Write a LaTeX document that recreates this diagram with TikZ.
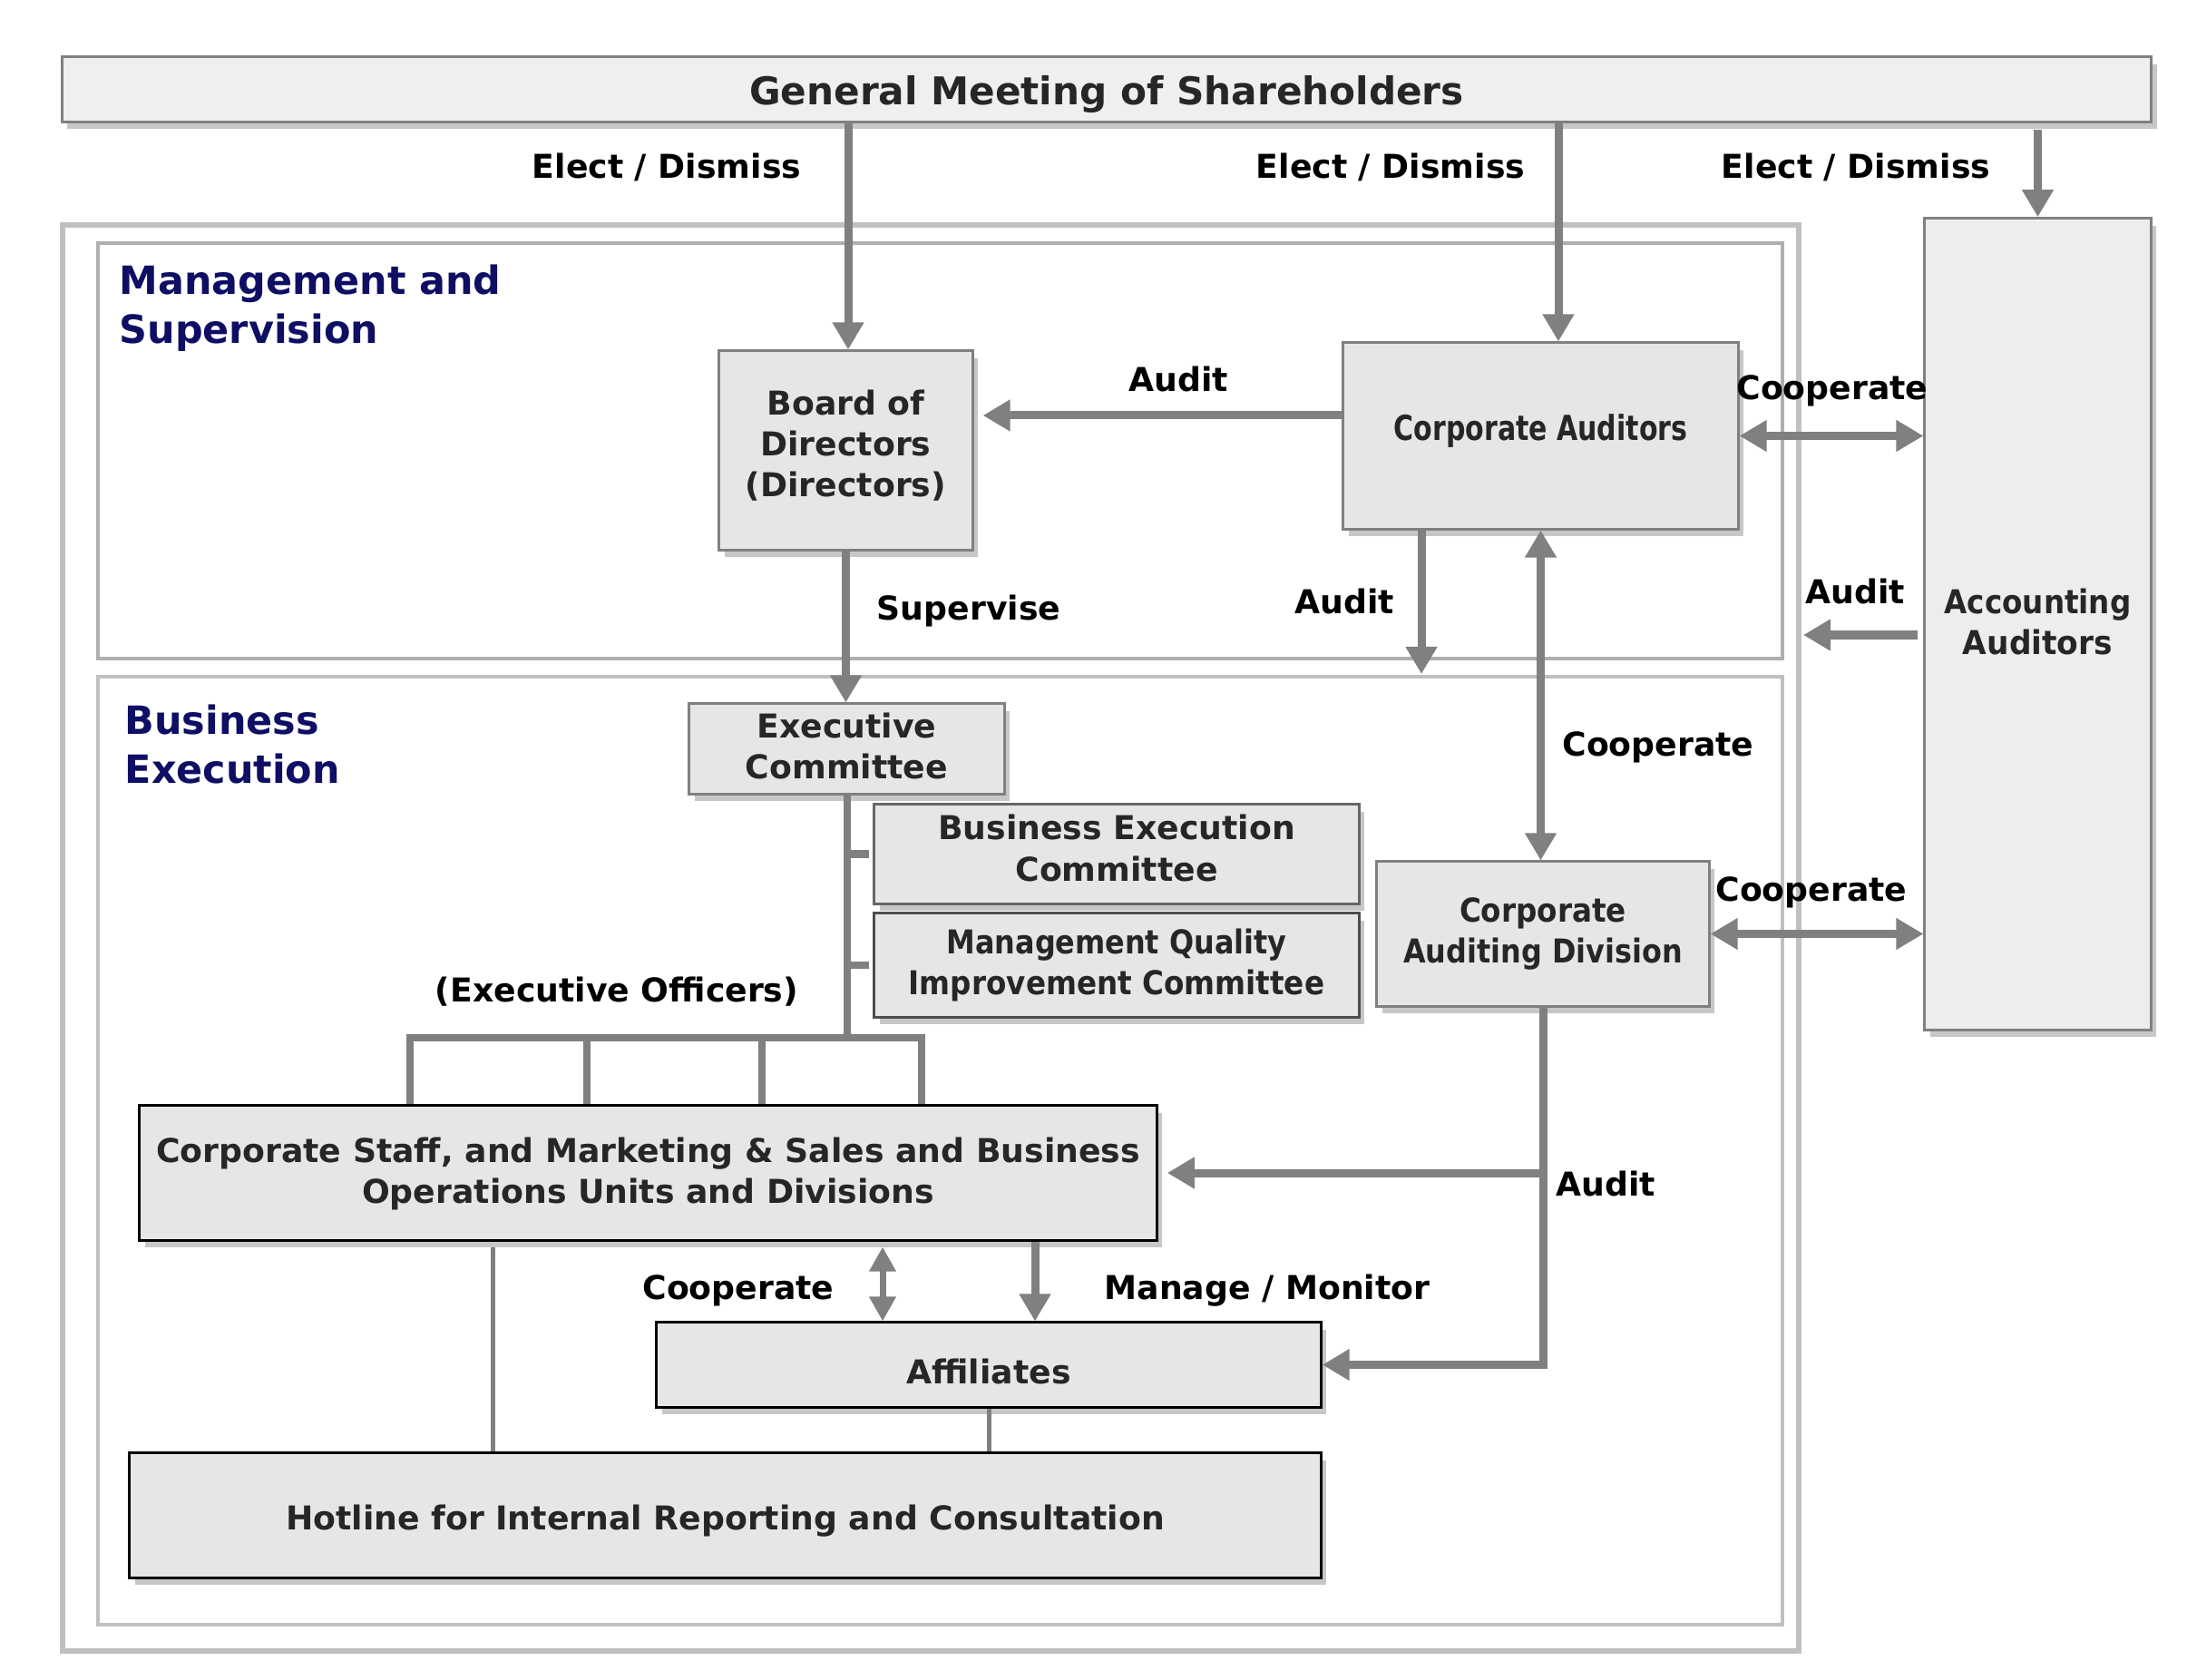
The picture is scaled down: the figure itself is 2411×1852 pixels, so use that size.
\documentclass[tikz,border=0pt]{standalone}
\usepackage{fontspec}
\setmainfont{DejaVu Sans}
\usetikzlibrary{arrows.meta,shadows,calc}
\definecolor{arrgray}{HTML}{808080}
\definecolor{boxborder}{HTML}{808080}
\definecolor{boxfill}{HTML}{E6E6E6}
\definecolor{gmfill}{HTML}{EFEFEF}
\definecolor{aafill}{HTML}{EDEDED}
\definecolor{boxtext}{HTML}{262626}
\definecolor{navy}{RGB}{14,14,100}
\definecolor{outerframe}{HTML}{C0C0C0}
\definecolor{innerframe}{HTML}{AFAFAF}
\newcommand{\sq}[2][0.85]{\scalebox{#1}[1]{#2}}
\newcommand{\mv}[2]{\raisebox{#1}[\height][\depth]{#2}}
\newcommand{\boxfont}{\bfseries\fontsize{10.3}{12.9}\selectfont}
\newcommand{\gmfont}{\bfseries\fontsize{12}{14}\selectfont}
\newcommand{\secfont}{\bfseries\fontsize{12.2}{15.4}\selectfont}
\begin{document}
\begin{tikzpicture}[x=0.01cm,y=-0.01cm,
  box/.style={draw=boxborder, line width=0.03cm, fill=boxfill, text=boxtext, font=\boxfont,
    align=center, inner sep=0pt,
    drop shadow={shadow xshift=0.06cm, shadow yshift=-0.08cm, opacity=0.22, fill=black}},
  blackbox/.style={box, draw=black},
  arr/.style={draw=arrgray, line width=0.09cm, line cap=butt,
    -{Triangle[length=0.3cm,width=0.33cm]}},
  darr/.style={draw=arrgray, line width=0.09cm, line cap=butt,
    {Triangle[length=0.3cm,width=0.33cm]}-{Triangle[length=0.3cm,width=0.33cm]}},
  sdarr/.style={draw=arrgray, line width=0.07cm, line cap=butt,
    {Triangle[length=0.27cm,width=0.28cm]}-{Triangle[length=0.27cm,width=0.28cm]}},
  tree/.style={draw=arrgray, line width=0.08cm, line cap=butt},
  thin/.style={draw=arrgray, line width=0.05cm},
  lab/.style={font=\boxfont, text=black, inner sep=0pt},
  sec/.style={font=\secfont, text=navy, inner sep=0pt, align=left, anchor=north west}
]
\useasboundingbox (0,0) rectangle (2411,1852);

% frames
\draw[draw=outerframe, line width=0.06cm] (69,248) rectangle (1983,1820);
\draw[draw=innerframe, line width=0.035cm] (108,268) rectangle (1965,726);
\draw[draw=outerframe, line width=0.035cm] (108,746) rectangle (1965,1791);

% section titles
\node[sec] (secms) at (131,291) {Management and\\Supervision};
\node[sec] (secbe) at (137,776) {Business\\Execution};

% nodes
\node[box, fill=gmfill, minimum width=23.02cm, minimum height=0.71cm, font=\gmfont, text=boxtext] (gm) at (1220,98.5) {\mv{-0.06cm}{General Meeting of Shareholders}};
\node[box, minimum width=2.79cm, minimum height=2.19cm] (bod) at (932.5,496.5) {\mv{0.03cm}{\begin{tabular}{@{}c@{}}Board of\\Directors\\(Directors)\end{tabular}}};
\node[box, minimum width=4.35cm, minimum height=2.05cm] (ca) at (1698.5,480.5) {\mv{0.05cm}{\fontsize{10.8}{13}\selectfont\sq[0.79]{Corporate Auditors}}};
\node[box, fill=aafill, minimum width=2.49cm, minimum height=8.94cm] (aa) at (2246.5,688) {\mv{-0.02cm}{\begin{tabular}{@{}c@{}}\sq[0.9]{Accounting}\\\sq[0.95]{Auditors}\end{tabular}}};
\node[box, minimum width=3.47cm, minimum height=0.99cm] (ec) at (933.5,825.5) {\mv{-0.015cm}{\begin{tabular}{@{}c@{}}Executive\\Committee\end{tabular}}};
\node[box, draw=boxborder!80!black, minimum width=5.34cm, minimum height=1.09cm] (bec) at (1231,941.5) {\mv{0.02cm}{\begin{tabular}{@{}c@{}}Business Execution\\Committee\end{tabular}}};
\node[box, draw=boxborder!60!black, minimum width=5.34cm, minimum height=1.14cm] (mqic) at (1231,1064) {\sq[0.88]{Management Quality}\\\sq[0.9]{Improvement Committee}};
\node[box, minimum width=3.66cm, minimum height=1.59cm] (cad) at (1701,1029.5) {\sq[0.9]{Corporate}\\\sq[0.88]{Auditing Division}};
\node[blackbox, minimum width=11.21cm, minimum height=1.48cm] (cs) at (714.5,1293) {\mv{-0.02cm}{\begin{tabular}{@{}c@{}}Corporate Staff, and Marketing \& Sales and Business\\Operations Units and Divisions\end{tabular}}};
\node[blackbox, minimum width=7.32cm, minimum height=0.93cm] (aff) at (1090,1504.5) {\mv{-0.07cm}{Affiliates}};
\node[blackbox, minimum width=13.13cm, minimum height=1.37cm] (hot) at (799.5,1670.5) {\mv{-0.06cm}{Hotline for Internal Reporting and Consultation}};

% connectors from general meeting
\draw[arr] (gm.south -| 935,0) -- (bod.north -| 935,0);
\draw[arr] (gm.south -| 1718,0) -- (ca.north -| 1718,0);
\draw[arr] ([yshift=-0.07cm]gm.south -| aa.north) -- (aa.north);

% audit etc.
\draw[arr, shorten >=0.1cm] ([yshift=0.225cm]ca.west) -- ([yshift=0.225cm]ca.west -| bod.east);
\draw[arr] (bod.south) -- (bod.south |- ec.north);
\coordinate (caaudit) at (1567,743);
\draw[arr] (ca.south -| caaudit) -- (caaudit);
\draw[darr] (ca.south) -- (ca.south |- cad.north);
\draw[darr] (ca.east) -- (ca.east -| aa.west);
\coordinate (aaaudit) at (1988,700);
\draw[arr] ([xshift=-0.06cm]aa.west |- aaaudit) -- (aaaudit);
\draw[darr] (cad.east) -- (cad.east -| aa.west);

% corporate auditing division audits
\draw[arr] (cad.south) -- (cad.south |- aff.east) -- (aff.east);
\draw[arr, shorten >=0.1cm] (cad.south |- cs.east) -- (cs.east);

% executive committee tree
\coordinate (bar) at (930,1144);
\draw[tree] (ec.south) -- (ec.south |- bar);
\draw[tree, shorten >=0.04cm] (ec.south |- bec.west) -- (bec.west);
\draw[tree, shorten >=0.04cm] (ec.south |- mqic.west) -- (mqic.west);
\draw[tree] (cs.north -| 452,0) -- (452,1144) -- (1016,1144) -- (cs.north -| 1016,0);
\draw[tree] (647,1144) -- (cs.north -| 647,0);
\draw[tree] (840,1144) -- (cs.north -| 840,0);

% corporate staff and affiliates
\draw[sdarr] ([yshift=-0.06cm]cs.south -| 973,0) -- (aff.north -| 973,0);
\draw[arr] (cs.south -| 1141,0) -- (aff.north -| 1141,0);
\draw[thin] ([yshift=-0.06cm]cs.south -| 543,0) -- (hot.north -| 543,0);
\draw[thin] (aff.south) -- (aff.south |- hot.north);

% labels
\node[lab] (l1) at (735,184) {Elect / Dismiss};
\node[lab] (l2) at (1533,184) {Elect / Dismiss};
\node[lab] (l3) at (2046,184) {Elect / Dismiss};
\node[lab] (l4) at (1299,418) {Audit};
\node[lab] (l5) at (1068,674) {Supervise};
\node[lab] (l6) at (1482,663) {Audit};
\node[lab] (l7) at (2020,431) {Cooperate};
\node[lab] (l8) at (2045,652) {Audit};
\node[lab] (l9) at (1828,824) {Cooperate};
\node[lab] (l10) at (1997,984) {Cooperate};
\node[lab] (l11) at (680,1093) {(Executive Officers)};
\node[lab] (l12) at (1770,1305) {Audit};
\node[lab] (l13) at (814,1423) {Cooperate};
\node[lab] (l14) at (1397,1423) {Manage / Monitor};
\end{tikzpicture}
\end{document}
